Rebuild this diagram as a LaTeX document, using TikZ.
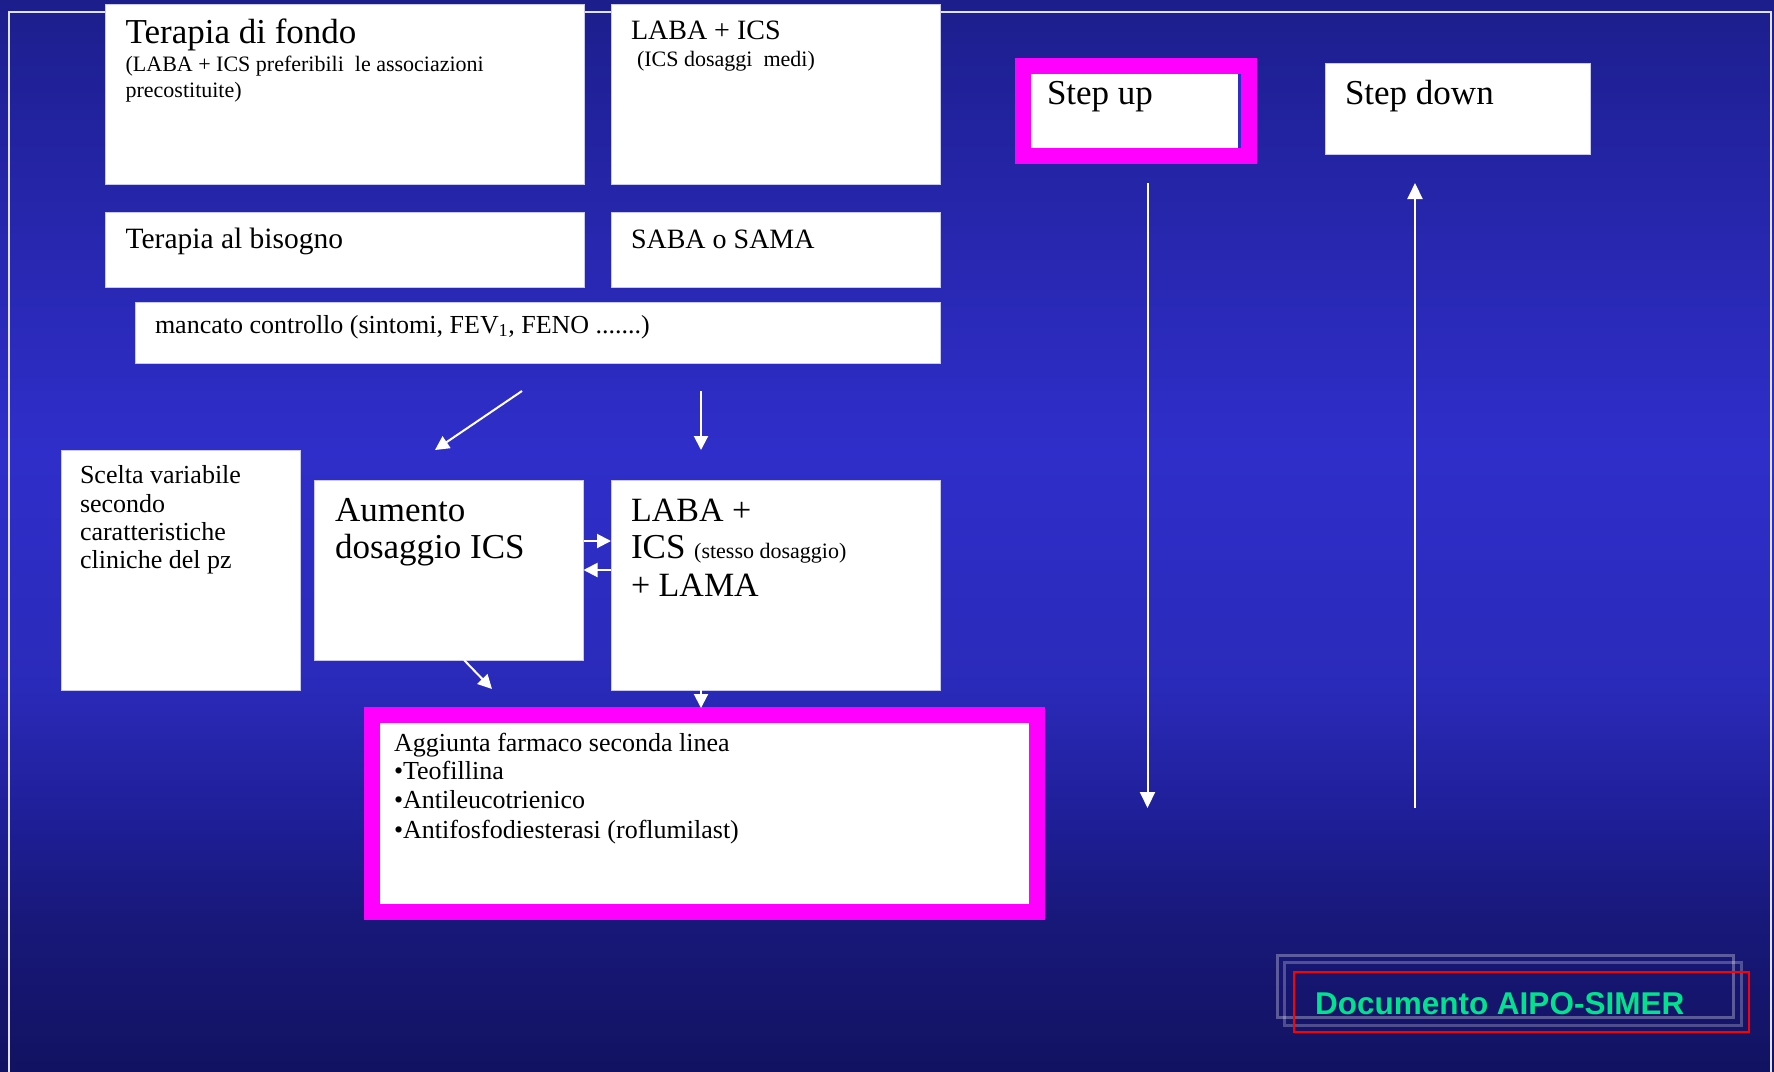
\documentclass[tikz,border=0pt]{standalone}
\usepackage{fontspec}
\setmainfont{Liberation Serif}
\newfontfamily\docfont{Liberation Sans}
\usetikzlibrary{arrows.meta}
\definecolor{bgmid}{RGB}{47,46,202}
\definecolor{boxedge}{RGB}{200,200,240}
\definecolor{mag}{RGB}{255,0,255}
\definecolor{docgreen}{RGB}{0,226,140}
\pgfdeclareverticalshading{bgsh}{100bp}{%
  rgb(0bp)=(0.071,0.071,0.384);
  rgb(25bp)=(0.071,0.071,0.384);
  rgb(32bp)=(0.094,0.094,0.478);
  rgb(36.5bp)=(0.118,0.118,0.588);
  rgb(43bp)=(0.165,0.165,0.729);
  rgb(54bp)=(0.184,0.180,0.792);
  rgb(65bp)=(0.149,0.149,0.675);
  rgb(75bp)=(0.110,0.118,0.549);
  rgb(100bp)=(0.110,0.118,0.549)}
\newcommand\myfs[1]{\fontsize{#1}{#1}\selectfont}
\begin{document}
\begin{tikzpicture}[x=1pt,y=-1pt,
  wbox/.style={draw=boxedge, line width=0.8pt, fill=white, inner sep=0pt, outer sep=0pt, anchor=north west},
  magbox/.style={draw=mag, line width=16pt, fill=white, inner sep=0pt, outer sep=0pt, anchor=north west},
  txt/.style={inner sep=0pt, outer sep=0pt, anchor=base west, text=black},
  arr/.style={draw=white, line width=2pt, -{Triangle[length=16pt,width=15pt]}},
  sarr/.style={draw=white, line width=2pt, -{Triangle[length=14pt,width=14pt]}},
  frame/.style={draw=white!88!blue, line width=2pt}
]
\useasboundingbox (0,0) rectangle (1774,1071);
\shade[shading=bgsh] (0,0) rectangle (1774,1071);
% frame
\draw[frame] (9,1075) -- (9,12) -- (1771,12) -- (1771,1075);

% boxes
\node[wbox, minimum width=479pt, minimum height=180pt] (fondo) at (105,4) {};
\node[wbox, minimum width=329pt, minimum height=180pt] (labaics) at (611,4) {};
\node[wbox, minimum width=479pt, minimum height=75pt] (bisogno) at (105,212) {};
\node[wbox, minimum width=329pt, minimum height=75pt] (saba) at (611,212) {};
\node[wbox, minimum width=805pt, minimum height=61pt] (mancato) at (135,302) {};
\node[wbox, minimum width=239pt, minimum height=240pt] (scelta) at (61,450) {};
\node[wbox, minimum width=269.5pt, minimum height=180pt] (aumento) at (314,480) {};
\node[wbox, minimum width=329pt, minimum height=210pt] (lama) at (611,480) {};
\node[wbox, minimum width=264.5pt, minimum height=91pt] (stepdown) at (1325.5,63) {};
\node[magbox, minimum width=226.5pt, minimum height=90pt] (stepup) at (1022.5,66) {};
\fill[bgmid] (1238,74) rectangle (1241,148);
\node[magbox, minimum width=665pt, minimum height=197pt] (aggiunta) at (372,715) {};

% texts
\node[txt, font=\myfs{35}] (t1) at (125.6,43) {Terapia di fondo};
\node[txt, font=\myfs{22}] (t2) at (125.6,71) {(LABA + ICS preferibili\ \ le associazioni};
\node[txt, font=\myfs{22}] (t3) at (125.6,97) {precostituite)};
\node[txt, font=\myfs{28}] (t4) at (631,39) {LABA + ICS};
\node[txt, font=\myfs{22}] (t5) at (637,66) {(ICS dosaggi\ \ medi)};
\node[txt, font=\myfs{29.5}] (t6) at (125.6,248) {Terapia al bisogno};
\node[txt, font=\myfs{28}] (t7) at (631,248) {SABA o SAMA};
\node[txt, font=\myfs{26}] (t8) at (155,333) {mancato controllo (sintomi, FEV\textsubscript{1}, FENO .......)};
\node[txt, font=\myfs{35}] (t9) at (1047,104) {Step up};
\node[txt, font=\myfs{35}] (t10) at (1345,104) {Step down};
\node[txt, font=\myfs{26}] (t11) at (80,483.6) {Scelta variabile};
\node[txt, font=\myfs{26}] (t12) at (80,512) {secondo};
\node[txt, font=\myfs{26}] (t13) at (80,540.7) {caratteristiche};
\node[txt, font=\myfs{26}] (t14) at (80,568.6) {cliniche del pz};
\node[txt, font=\myfs{35}] (t15) at (335,521) {Aumento};
\node[txt, font=\myfs{35}] (t16) at (335,558.6) {dosaggio ICS};
\node[txt, font=\myfs{34}] (t17) at (631,521) {LABA +};
\node[txt, font=\myfs{35}] (t18) at (631,558.6) {ICS {\myfs{22}(stesso dosaggio)}};
\node[txt, font=\myfs{34}] (t19) at (631,596.8) {+ LAMA};
\node[txt, font=\myfs{26}] (t20) at (394,751) {Aggiunta farmaco seconda linea};
\node[txt, font=\myfs{26}] (t21) at (394,779) {\textbullet Teofillina};
\node[txt, font=\myfs{26}] (t22) at (394,808.6) {\textbullet Antileucotrienico};
\node[txt, font=\myfs{26}] (t23) at (394,838) {\textbullet Antifosfodiesterasi (roflumilast)};

% connector end points
\coordinate (d1) at (522,391);
\coordinate (d2) at (435,450);
\coordinate (v1) at (701,391);
\coordinate (v2) at (701,450);
\coordinate (a1) at (464,660);
\coordinate (a2) at (492,689);
\coordinate (l1) at (701,690);
\coordinate (l2) at (701,708);
\coordinate (h1) at (583.5,541);
\coordinate (h2) at (611,541);
\coordinate (h3) at (611,570);
\coordinate (h4) at (583.5,570);
\coordinate (su1) at (1147.5,183);
\coordinate (su2) at (1147.5,808);
\coordinate (sd1) at (1415,808);
\coordinate (sd2) at (1415,183);

\draw[sarr] (d1) -- (d2);
\draw[sarr] (v1) -- (v2);
\draw[sarr] (a1) -- (a2);
\draw[sarr] (l1) -- (l2);
\draw[sarr] (h1) -- (h2);
\draw[sarr] (h3) -- (h4);
\draw[arr] (su1) -- (su2);
\draw[arr] (sd1) -- (sd2);

% Documento label
\draw[white, opacity=0.3, line width=3pt] (1277,955.7) rectangle (1733.6,1017);
\draw[white, opacity=0.25, line width=3pt] (1284,962) rectangle (1741,1025.7);
\draw[red, line width=2.2pt] (1294,972) rectangle (1748.7,1032);
\node[txt, text=docgreen, font={\docfont\bfseries\myfs{31.5}}] (doc) at (1315,1014) {Documento AIPO-SIMER};
\end{tikzpicture}
\end{document}
